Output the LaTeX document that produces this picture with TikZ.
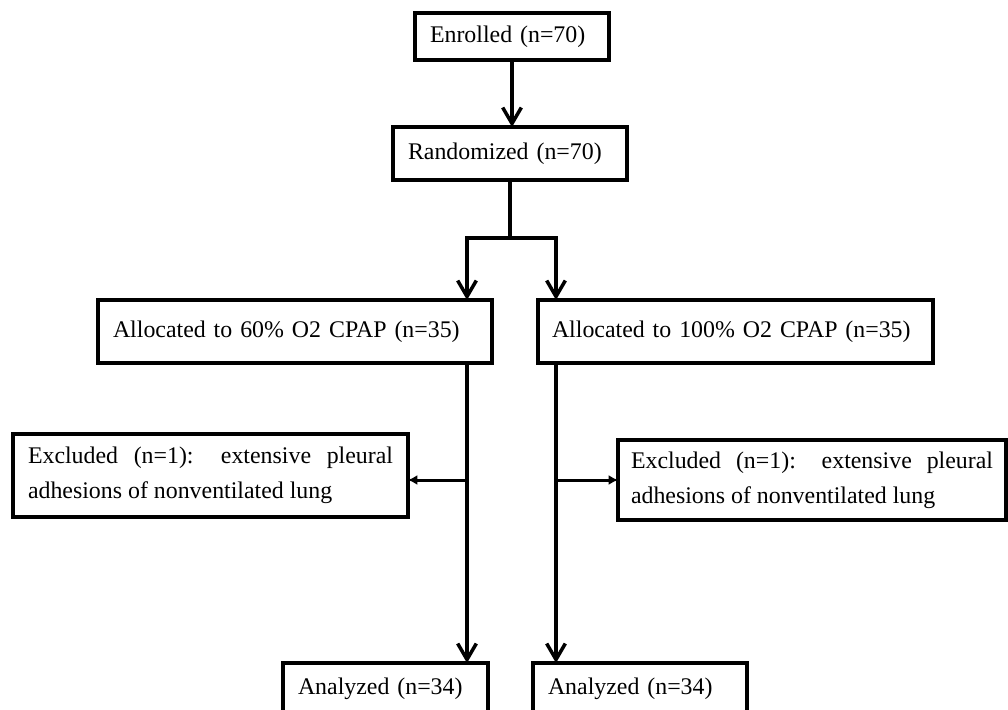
\documentclass[tikz,border=0pt]{standalone}
\usepackage{fontspec}
\setmainfont{Liberation Serif}
\usepackage{tikz}
\usetikzlibrary{arrows.meta, positioning}
\newlength\px
\setlength\px{0.75pt}

\begin{document}
\begin{tikzpicture}[x=0.75pt, y=-0.75pt, font=\fontsize{17.9pt}{26.2pt}\selectfont,
  box/.style={draw, line width=3.5\px, anchor=north west, outer sep=0pt,
    inner xsep=15\px, inner ysep=0pt, align=left},
  flow/.style={line width=3.5\px, -{Straight Barb[length=12pt, width=14pt]}},
  side/.style={line width=3\px, -{Latex[length=7pt, width=7.5pt]}}]
  \useasboundingbox (0,0) rectangle (1008,710);

  \node[box, text width=164\px, minimum height=47\px] (enr) at (415,13) {Enrolled (n=70)};
  \node[box, text width=204\px, minimum height=53\px] (rand) at (393,127) {Randomized (n=70)};

  \node[box, text width=364\px, minimum height=63\px] (a60) at (98,300) {Allocated to 60\% O2 CPAP (n=35)};
  \node[box, inner xsep=14\px, text width=367\px, minimum height=63\px] (a100) at (538,300) {Allocated to 100\% O2 CPAP (n=35)};

  \node[box, align=justify, text width=365\px, minimum height=83\px] (ex1) at (13,434)
    {Excluded (n=1): extensive pleural\linebreak adhesions of nonventilated lung};
  \node[box, align=justify, inner xsep=13\px, text width=362\px, minimum height=80\px] (ex2) at (618,440)
    {Excluded (n=1): extensive pleural\linebreak adhesions of nonventilated lung};

  \node[box, text width=175\px, minimum height=52\px] (an1) at (283,663) {Analyzed (n=34)};
  \node[box, text width=184\px, minimum height=52\px] (an2) at (533,663) {Analyzed (n=34)};

  \coordinate (lcol) at (467,0);
  \coordinate (rcol) at (556,0);
  \coordinate (exrow) at (0,480);

  \draw[flow] (enr.south) -- (enr.south |- rand.north);
  \draw[line width=3.5\px] (rand.south) -- ++(0,58) coordinate (split);
  \draw[flow] (split) -| (a60.north -| lcol);
  \draw[flow] (split) -| (a100.north -| rcol);

  \draw[flow] (a60.south -| lcol) -- (an1.north -| lcol);
  \draw[flow] (a100.south -| rcol) -- (an2.north -| rcol);
  \draw[side] (lcol |- exrow) -- (ex1.east |- exrow);
  \draw[side] (rcol |- exrow) -- (ex2.west |- exrow);
\end{tikzpicture}
\end{document}
